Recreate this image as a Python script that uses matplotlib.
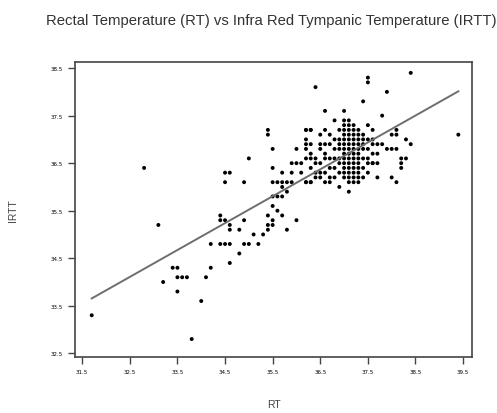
import numpy as np
import matplotlib.pyplot as plt

# Ректальная температура (RT) и тимпаническая (IRTT)
rt_sparse = [31.7, 32.8, 33.1, 33.2, 33.4, 33.5, 33.5, 33.6, 33.7, 33.5, 33.8, 34.0,
             34.1, 34.2, 34.2, 34.4, 34.5, 34.6, 34.6, 34.4, 34.4, 34.5, 34.6, 34.6,
             34.5, 34.6, 34.5, 34.8, 34.8, 34.9, 34.9, 35.0, 34.9, 35.0, 35.1, 35.2,
             35.3, 35.4, 35.4, 35.4, 35.4, 35.4, 35.5, 35.5, 35.5, 35.5, 35.5, 35.5,
             35.5, 35.6, 35.7, 35.8, 35.6, 35.7, 35.6, 35.7, 35.7, 35.7, 35.8, 35.8,
             35.9, 35.9, 35.9, 36.0, 36.1, 36.0, 36.0, 36.1, 36.2, 36.3, 36.2, 36.3,
             36.4, 36.6, 36.8, 37.0, 37.1, 37.4, 37.5, 37.5, 37.9, 37.8, 38.4, 39.4,
             37.7, 38.0, 38.1, 38.2, 38.2, 38.2, 38.3, 38.3, 38.4, 38.1, 38.1, 38.0,
             37.9, 38.0, 38.1, 37.8, 37.6, 37.7]
irtt_sparse = [33.3, 36.4, 35.2, 34.0, 34.3, 34.3, 34.1, 34.1, 34.1, 33.8, 32.8, 33.6,
               34.1, 34.3, 34.8, 34.8, 34.8, 34.8, 34.4, 35.4, 35.3, 35.3, 35.2, 35.1,
               36.3, 36.3, 36.1, 34.6, 35.1, 35.3, 34.8, 34.8, 36.1, 36.6, 35.0, 34.8,
               35.0, 37.2, 37.1, 35.1, 35.2, 35.4, 36.8, 36.4, 36.1, 35.8, 35.6, 35.3,
               35.2, 36.1, 36.1, 36.1, 35.8, 35.8, 35.5, 35.4, 36.3, 36.0, 35.1, 35.9,
               36.1, 36.3, 36.5, 36.5, 36.5, 36.8, 35.3, 36.3, 36.1, 36.1, 37.2, 37.2,
               38.1, 37.6, 37.4, 37.6, 35.9, 37.8, 38.3, 38.2, 38.0, 37.5, 38.4, 37.1,
               36.2, 36.2, 36.1, 36.6, 36.5, 36.4, 36.6, 37.0, 36.9, 37.2, 37.1, 37.1,
               36.8, 36.8, 36.8, 36.9, 36.5, 36.5]

# Плотное облако: RT -> значения IRTT в этом столбце
cluster_cols = [36.2, 36.3, 36.4, 36.5, 36.6, 36.7, 36.8, 36.9, 37.0, 37.1,
                37.2, 37.3, 37.4, 37.5, 37.6, 37.7]
cluster_vals = [
    [37.2, 37.0, 36.9, 36.8, 36.6, 36.1],
    [37.2, 36.9, 36.7, 36.6, 36.4, 36.1],
    [36.6, 36.5, 36.3, 36.2],
    [37.1, 36.9, 36.8, 36.5, 36.3, 36.2],
    [37.2, 36.9, 36.7, 36.6, 36.3, 36.1],
    [37.1, 36.9, 36.6, 36.4, 36.2, 36.1],
    [37.0, 36.8, 36.6, 36.4, 36.2],
    [37.2, 37.0, 36.9, 36.8, 36.6, 36.5, 36.3, 36.0],
    [37.4, 37.3, 37.2, 37.1, 37.0, 36.9, 36.8, 36.7, 36.6, 36.5, 36.4, 36.3, 36.2],
    [37.4, 37.3, 37.2, 37.1, 37.0, 36.9, 36.8, 36.7, 36.6, 36.5, 36.4, 36.3, 36.2, 36.1],
    [37.3, 37.2, 37.1, 37.0, 36.9, 36.8, 36.7, 36.6, 36.5, 36.4, 36.3, 36.2, 36.1],
    [37.2, 37.1, 37.0, 36.9, 36.8, 36.7, 36.6, 36.5, 36.4, 36.3, 36.2, 36.1],
    [37.1, 37.0, 36.9, 36.8, 36.6, 36.4, 36.2],
    [37.3, 37.0, 36.8, 36.6, 36.5, 36.3],
    [37.2, 37.0, 36.9, 36.7, 36.5],
    [36.9, 36.7],
]

x_ticks = [31.5, 32.5, 33.5, 34.5, 35.5, 36.5, 37.5, 38.5, 39.5]
y_ticks = [32.5, 33.5, 34.5, 35.5, 36.5, 37.5, 38.5]

rt = list(rt_sparse)
irtt = list(irtt_sparse)
for c, vals in zip(cluster_cols, cluster_vals):
    rt += [c] * len(vals)
    irtt += vals
rt = np.array(rt)
irtt = np.array(irtt)

fig = plt.figure(figsize=(4.97, 4.14), dpi=100)
ax = fig.add_axes([0.151, 0.135, 0.799, 0.713])

ax.scatter(rt, irtt, s=8, c='black', edgecolors='none')

# Линия регрессии
k, b = np.polyfit(rt, irtt, 1)
xs = np.array([rt.min(), rt.max()])
ax.plot(xs, k * xs + b, color='#6e6e6e', linewidth=1.4)

ax.set_xlim(31.35, 39.69)
ax.set_ylim(32.42, 38.63)
ax.set_xticks(x_ticks)
ax.set_yticks(y_ticks)
ax.tick_params(labelsize=4, length=5, width=1, color='#444444', direction='out')
for sp in ax.spines.values():
    sp.set_color('#444444')
    sp.set_linewidth(1.2)

fnt = 'Liberation Sans'
ax.set_xlabel('RT', fontsize=7.5, color='#444444', family=fnt, labelpad=18)
ax.set_ylabel('IRTT', fontsize=7.5, color='#444444', family=fnt, labelpad=24)
fig.suptitle('Rectal Temperature (RT) vs Infra Red Tympanic Temperature (IRTT)',
             x=0.545, y=0.965, fontsize=10.7, color='#333333', family=fnt)

fig.savefig('out.png', dpi=100)
